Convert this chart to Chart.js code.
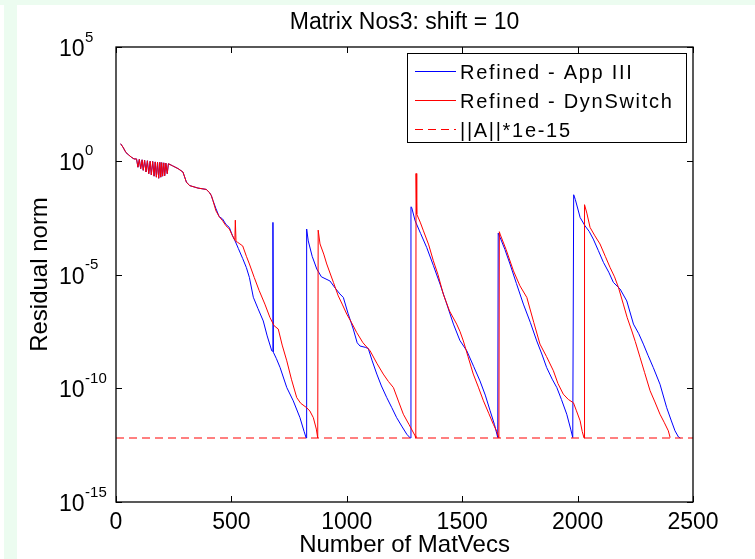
<!DOCTYPE html>
<html>
<head>
<meta charset="utf-8">
<script src="https://cdn.jsdelivr.net/npm/chart.js@4.4.1/dist/chart.umd.min.js"></script>
<style>
html,body{margin:0;padding:0;background:#ffffff;}
canvas{display:block;}
</style>
</head>
<body>
<canvas id="c" width="755" height="559"></canvas>
<script>
// ---------- text ----------
const titleText = 'Matrix Nos3: shift = 10';
const xAxisTitle = 'Number of MatVecs';
const yAxisTitle = 'Residual norm';
const seriesNames = ['Refined - App III', 'Refined - DynSwitch', '||A||*1e-15'];

// ---------- ticks ----------
const xTicks = [0, 500, 1000, 1500, 2000, 2500];
const yTicks = [1e5, 1e0, 1e-5, 1e-10, 1e-15];
const yTickExponents = ['5', '0', '-5', '-10', '-15'];

// ---------- shared start of both runs (MatVecs, residual) ----------
const sharedX = [20, 30, 43, 55, 66, 78, 89, 95, 101, 107, 113, 118, 124, 130, 136, 142, 148, 153, 159, 165,
  170, 175, 180, 185, 190, 194, 198, 202, 207, 211, 216, 222, 227, 245, 269, 290, 305, 319, 355, 391, 405, 413];
const sharedY = [5.6, 4.0, 2.3, 1.8, 1.45, 1.2, 1.2, 0.52, 1.15, 0.45, 1.1, 0.38, 1.05, 0.32, 1.0, 0.27, 0.95, 0.24, 0.93, 0.21,
  0.89, 0.19, 0.87, 0.17, 0.85, 0.19, 0.83, 0.21, 0.81, 0.22, 0.79, 0.27, 0.74, 0.60, 0.45, 0.32, 0.115, 0.081, 0.063, 0.055, 0.040, 0.0295];

// ---------- Refined - App III (blue) ----------
const appX = [420, 433, 447, 462, 476, 491, 505, 516, 530, 549, 565, 578, 595, 615, 638, 655, 675, 679, 680, 682,
  695, 711, 740, 768, 797, 815, 824, 826, 833, 850, 870, 890, 910, 927, 950, 970, 985, 1005, 1028, 1045,
  1057, 1080, 1093, 1110, 1130, 1150, 1173, 1195, 1216, 1240, 1260, 1275, 1278, 1281, 1296, 1320, 1346, 1375, 1404, 1430,
  1462, 1490, 1520, 1550, 1577, 1600, 1621, 1640, 1654, 1656, 1664, 1685, 1707, 1735, 1765, 1795, 1823, 1845, 1866, 1890,
  1910, 1930, 1953, 1970, 1979, 1983, 1990, 2011, 2032, 2050, 2068, 2090, 2112, 2135, 2155, 2184, 2213, 2242, 2265, 2285,
  2305, 2328, 2357, 2386, 2405, 2422, 2437, 2445];
const appY = [1.8e-2, 7.9e-3, 3.5e-3, 2.75e-3, 1.6e-3, 1.17e-3, 5.0e-4, 3.0e-4, 1.4e-4, 5.0e-5, 2.0e-5, 7.4e-6, 1.0e-6, 3.2e-7, 9.1e-8, 2.0e-8, 4.4e-9, 4.2e-9, 1.95e-3, 3.8e-9,
  2.0e-9, 8.1e-10, 1.07e-10, 2.8e-11, 5.1e-12, 1.26e-12, 6.5e-13, 1.0e-3, 3.0e-4, 6.3e-5, 1.74e-5, 7.9e-6, 6.3e-6, 5.2e-6, 2.5e-6, 1.4e-6, 9.8e-7, 2.0e-7, 4.0e-8, 1.0e-8,
  7.2e-9, 6.3e-9, 5.6e-9, 1.6e-9, 4.2e-10, 1.26e-10, 3.9e-11, 1.4e-11, 5.1e-12, 2.0e-12, 9.5e-13, 6.5e-13, 9.5e-3, 8.9e-3, 2.3e-3, 6.3e-4, 1.55e-4, 2.5e-5, 3.8e-6, 6.3e-7,
  6.6e-8, 1.26e-8, 4.4e-9, 8.9e-10, 2.1e-10, 5.0e-11, 1.02e-11, 2.5e-12, 6.8e-13, 6.6e-4, 4.3e-4, 1.26e-4, 2.9e-5, 4.0e-6, 5.0e-7, 7.9e-8, 1.2e-8, 3.2e-9, 8.1e-10, 2.5e-10,
  1.07e-10, 3.2e-11, 7.2e-12, 1.6e-12, 6.8e-13, 3.2e-2, 2.0e-2, 3.2e-3, 1.38e-3, 7.9e-4, 3.6e-4, 1.12e-4, 3.4e-5, 1.26e-5, 4.5e-6, 2.3e-6, 6.9e-7, 6.6e-8, 2.5e-8, 8.7e-9,
  2.8e-9, 8.1e-10, 1.5e-10, 1.4e-11, 4.0e-12, 1.35e-12, 7.2e-13, 6.5e-13];

// ---------- Refined - DynSwitch (red) ----------
const dynX = [420, 433, 447, 462, 476, 491, 505, 515, 517, 520, 527, 537, 549, 565, 578, 599, 620, 645, 667, 685,
  703, 720, 740, 760, 783, 800, 826, 840, 855, 868, 874, 876, 884, 900, 913, 942, 963, 980, 1000, 1020,
  1043, 1070, 1101, 1130, 1158, 1180, 1202, 1225, 1245, 1270, 1296, 1299, 1300, 1303, 1318, 1332, 1355, 1375, 1395, 1418,
  1445, 1476, 1490, 1505, 1525, 1548, 1570, 1592, 1615, 1635, 1650, 1659, 1661, 1664, 1690, 1722, 1750, 1780, 1810, 1837,
  1865, 1895, 1915, 1938, 1960, 1982, 1995, 2011, 2020, 2028, 2030, 2040, 2054, 2075, 2097, 2120, 2141, 2160, 2177, 2198,
  2215, 2235, 2250, 2271, 2290, 2314, 2335, 2357, 2375, 2393, 2401];
const dynY = [1.8e-2, 6.3e-3, 3.5e-3, 2.3e-3, 1.4e-3, 1.0e-3, 5.0e-4, 3.2e-4, 2.45e-3, 2.8e-4, 2.6e-4, 2.2e-4, 1.8e-4, 6.3e-5, 2.9e-5, 7.4e-6, 2.0e-6, 5.0e-7, 1.29e-7, 5.6e-8,
  4.0e-8, 7.9e-9, 1.6e-9, 2.5e-10, 3.9e-11, 2.2e-11, 1.4e-11, 1.0e-11, 5.1e-12, 1.6e-12, 6.5e-13, 8.9e-4, 2.2e-4, 7.9e-5, 2.9e-5, 4.5e-6, 1.15e-6, 5.0e-7, 1.8e-7, 7.9e-8,
  2.8e-8, 1.0e-8, 4.4e-9, 1.26e-9, 4.2e-10, 2.0e-10, 1.07e-10, 2.5e-11, 7.2e-12, 2.5e-12, 8.1e-13, 6.5e-13, 2.75e-1, 4.5e-3, 2.0e-3, 8.3e-4, 2.0e-4, 4.0e-5, 1.0e-5, 1.38e-6,
  2.5e-7, 6.6e-8, 3.2e-8, 1.2e-8, 2.5e-9, 4.2e-10, 1.12e-10, 2.8e-11, 7.9e-12, 2.6e-12, 1.26e-12, 6.5e-13, 7.6e-4, 6.0e-4, 1.26e-4, 1.45e-5, 3.2e-6, 9.8e-7, 7.9e-8, 8.7e-9,
  2.5e-9, 5.9e-10, 1.6e-10, 5.5e-11, 3.2e-11, 2.3e-11, 1.02e-11, 3.7e-12, 1.26e-12, 6.5e-13, 1.17e-2, 5.0e-3, 1.17e-3, 5.0e-4, 2.2e-4, 6.3e-5, 2.0e-5, 7.9e-6, 2.7e-6, 5.0e-7,
  1.26e-7, 3.3e-8, 1.12e-8, 2.2e-9, 5.0e-10, 7.8e-11, 2.5e-11, 7.2e-12, 3.2e-12, 1.35e-12, 6.8e-13];

// ---------- ||A||*1e-15 level ----------
const tolX = [0, 2500];
const tolY = [6.5e-13, 6.5e-13];

const toPoints = (xs, ys) => xs.map((x, i) => ({ x: x, y: ys[i] }));
const appPoints = toPoints(sharedX.concat(appX), sharedY.concat(appY));
const dynPoints = toPoints(sharedX.concat(dynX), sharedY.concat(dynY));
const tolPoints = toPoints(tolX, tolY);

const FONT = '"Liberation Sans", Arial, Helvetica, sans-serif';
const MINT = '#ecfcf0';

const framePlugin = {
  id: 'matlabFrame',
  beforeDraw(chart) {
    const ctx = chart.ctx;
    ctx.save();
    ctx.fillStyle = '#ffffff';
    ctx.fillRect(0, 0, chart.width, chart.height);
    ctx.fillStyle = MINT;
    ctx.fillRect(0, 0, chart.width, 5);
    ctx.fillRect(4, 0, 13, chart.height);
    ctx.restore();
  },
  afterDraw(chart) {
    const ctx = chart.ctx;
    const a = chart.chartArea;
    const xs = chart.scales.x, ys = chart.scales.y;
    ctx.save();
    // axes box
    ctx.strokeStyle = '#000';
    ctx.lineWidth = 1.3;
    ctx.strokeRect(a.left, a.top, a.right - a.left, a.bottom - a.top);
    // tick marks (inside)
    ctx.lineWidth = 1;
    ctx.beginPath();
    xTicks.forEach(v => {
      const px = Math.round(xs.getPixelForValue(v)) + 0.5;
      ctx.moveTo(px, a.bottom); ctx.lineTo(px, a.bottom - 6);
      ctx.moveTo(px, a.top); ctx.lineTo(px, a.top + 6);
    });
    yTicks.forEach(v => {
      const py = Math.round(ys.getPixelForValue(v)) + 0.5;
      ctx.moveTo(a.left, py); ctx.lineTo(a.left + 6, py);
      ctx.moveTo(a.right, py); ctx.lineTo(a.right - 6, py);
    });
    ctx.stroke();

    ctx.fillStyle = '#000';
    // x tick labels
    ctx.font = '23px ' + FONT;
    ctx.textAlign = 'center';
    ctx.textBaseline = 'alphabetic';
    xTicks.forEach(v => {
      ctx.fillText(String(v), xs.getPixelForValue(v), 528.5);
    });
    // y tick labels 10^n
    ctx.textAlign = 'left';
    yTicks.forEach((v, i) => {
      const py = ys.getPixelForValue(v);
      ctx.font = '23px ' + FONT;
      const w = ctx.measureText('10').width;
      ctx.fillText('10', 59, py + 9.2);
      ctx.font = '15px ' + FONT;
      ctx.fillText(yTickExponents[i], 59 + w + 0.5, py - 5.5);
    });
    // title
    ctx.font = '23px ' + FONT;
    ctx.textAlign = 'center';
    ctx.fillText(titleText, (a.left + a.right) / 2, 28.5);
    // axis titles
    ctx.font = '24px ' + FONT;
    ctx.fillText(xAxisTitle, (a.left + a.right) / 2, 551.5);
    ctx.save();
    ctx.translate(47, (a.top + a.bottom) / 2);
    ctx.rotate(-Math.PI / 2);
    ctx.fillText(yAxisTitle, 0, 0);
    ctx.restore();

    // legend
    const lx = 407.5, ly = 53.5, lw = 279, lh = 89;
    ctx.fillStyle = '#fff';
    ctx.fillRect(lx, ly, lw, lh);
    ctx.strokeStyle = '#000';
    ctx.lineWidth = 1;
    ctx.strokeRect(lx, ly, lw, lh);
    const rows = [71.5, 100.5, 129.5];
    const ds = chart.data.datasets;
    rows.forEach((ry, i) => {
      ctx.strokeStyle = ds[i].borderColor;
      ctx.lineWidth = 1;
      ctx.setLineDash(ds[i].borderDash || []);
      ctx.beginPath();
      ctx.moveTo(415, ry); ctx.lineTo(456, ry);
      ctx.stroke();
      ctx.setLineDash([]);
      ctx.fillStyle = '#000';
      ctx.font = '20px ' + FONT;
      ctx.textAlign = 'left';
      ctx.textBaseline = 'alphabetic';
      try { ctx.letterSpacing = '1.7px'; } catch (e) {}
      ctx.fillText(seriesNames[i], 460, ry + 7);
      try { ctx.letterSpacing = '0px'; } catch (e) {}
    });
    ctx.restore();
  }
};

new Chart(document.getElementById('c'), {
  type: 'line',
  data: {
    datasets: [
      { label: seriesNames[0], data: appPoints, borderColor: '#0000ff', borderWidth: 1, order: 2 },
      { label: seriesNames[1], data: dynPoints, borderColor: '#ff0000', borderWidth: 1, order: 1 },
      { label: seriesNames[2], data: tolPoints, borderColor: '#ff0000', borderWidth: 1, borderDash: [8, 5], order: 0 }
    ]
  },
  options: {
    responsive: false,
    animation: false,
    devicePixelRatio: 1,
    layout: { padding: { left: 116, right: 62, top: 47, bottom: 57 } },
    elements: { point: { radius: 0, hoverRadius: 0 }, line: { tension: 0, fill: false } },
    scales: {
      x: { type: 'linear', min: 0, max: 2500, display: false },
      y: { type: 'logarithmic', min: 1e-15, max: 1e5, display: false }
    },
    plugins: { legend: { display: false }, title: { display: false }, tooltip: { enabled: false } },
    events: []
  },
  plugins: [framePlugin]
});
</script>
</body>
</html>
